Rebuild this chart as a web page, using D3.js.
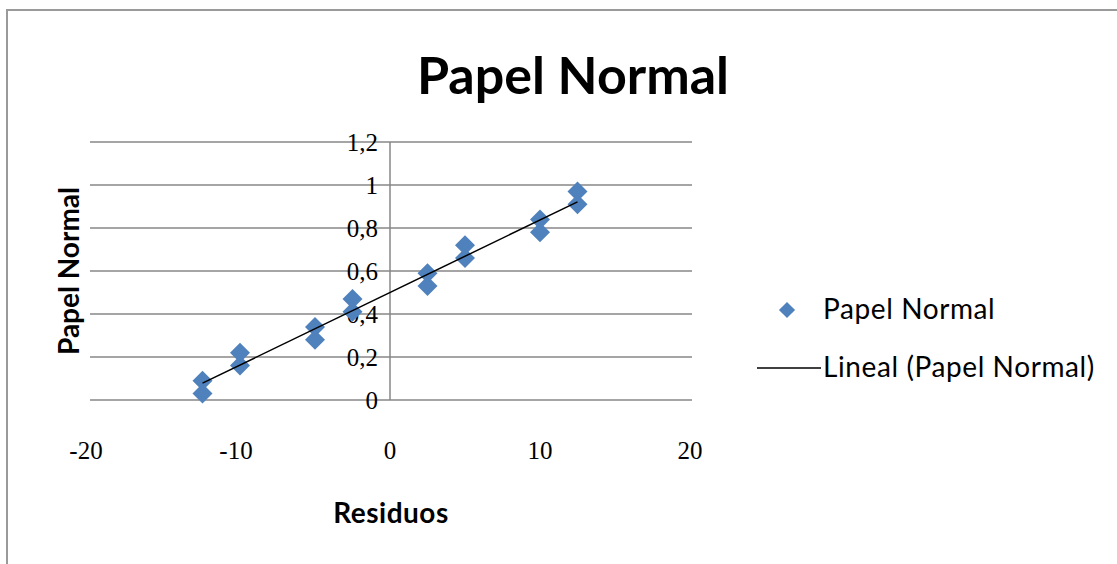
<!DOCTYPE html>
<html>
<head>
<meta charset="utf-8">
<script src="https://cdnjs.cloudflare.com/ajax/libs/d3/7.8.5/d3.min.js"></script>
<style>
  body { margin: 0; background: #fff; }
  svg { display: block; }
</style>
</head>
<body>
<script>
// datos
var residuos = [-12.5, -12.5, -10, -10, -5, -5, -2.5, -2.5, 2.5, 2.5, 5, 5, 10, 10, 12.5, 12.5];
var papel = [0.03, 0.09, 0.16, 0.22, 0.28, 0.34, 0.41, 0.47, 0.53, 0.59, 0.66, 0.72, 0.78, 0.84, 0.91, 0.97];
var xTicks = [-20, -10, 0, 10, 20];
var yTicks = [0, 0.2, 0.4, 0.6, 0.8, 1, 1.2];

var w = 1117, h = 564;
var blue = '#4f81bd';
var sans = 'Lato, "Open Sans", sans-serif';
var serif = '"Liberation Serif", serif';

var svg = d3.select('body').append('svg')
    .attr('width', w)
    .attr('height', h);

svg.append('rect')
   .attr('width', w).attr('height', h)
   .attr('fill', 'white');

// borde del grafico
svg.append('rect')
   .attr('x', 7).attr('y', 10)
   .attr('width', w + 10).attr('height', h + 10)
   .attr('fill', 'none')
   .attr('stroke', '#9a9a9a')
   .attr('stroke-width', 2);

var x = d3.scaleLinear().domain([-20, 20]).range([90, 690]);
var y = d3.scaleLinear().domain([0, 1.2]).range([400, 142]);

// lineas de division
svg.append('g').selectAll('line')
   .data(yTicks)
   .enter().append('line')
   .attr('x1', x(-20)).attr('x2', x(20) + 2)
   .attr('y1', function(d){ return y(d); })
   .attr('y2', function(d){ return y(d); })
   .attr('stroke', '#878787')
   .attr('stroke-width', 1.5);

// eje vertical en x = 0
svg.append('line')
   .attr('x1', x(0)).attr('x2', x(0))
   .attr('y1', y(1.2)).attr('y2', y(0))
   .attr('stroke', '#878787')
   .attr('stroke-width', 1.5);

// etiquetas eje y
svg.append('g').selectAll('text')
   .data(yTicks)
   .enter().append('text')
   .attr('x', x(0) - 12)
   .attr('y', function(d){ return y(d) + 9; })
   .attr('text-anchor', 'end')
   .style('font-family', serif)
   .style('font-size', '25px')
   .text(function(d){ return String(d).replace('.', ','); });

// etiquetas eje x
svg.append('g').selectAll('text')
   .data(xTicks)
   .enter().append('text')
   .attr('x', function(d){ return x(d) - (d < 0 ? 4 : 0); })
   .attr('y', 459)
   .attr('text-anchor', 'middle')
   .style('font-family', serif)
   .style('font-size', '25px')
   .text(function(d){ return d; });

// puntos
var pts = residuos.map(function(r, i){ return {r: r, p: papel[i]}; });
var diamond = d3.symbol().type(d3.symbolSquare).size(200);

svg.append('g').selectAll('path')
   .data(pts)
   .enter().append('path')
   .attr('d', diamond)
   .attr('transform', function(d){ return 'translate(' + x(d.r) + ',' + y(d.p) + ') rotate(45)'; })
   .attr('fill', blue);

// linea de tendencia (minimos cuadrados)
var mx = d3.mean(residuos), my = d3.mean(papel);
var sxy = d3.sum(pts, function(d){ return (d.r - mx) * (d.p - my); });
var sxx = d3.sum(pts, function(d){ return (d.r - mx) * (d.r - mx); });
var m = sxy / sxx, b = my - m * mx;
var ext = d3.extent(residuos);

svg.append('line')
   .attr('x1', x(ext[0])).attr('y1', y(m * ext[0] + b))
   .attr('x2', x(ext[1])).attr('y2', y(m * ext[1] + b))
   .attr('stroke', 'black')
   .attr('stroke-width', 1.5);

// titulos
svg.append('text')
   .attr('x', 573).attr('y', 94)
   .attr('text-anchor', 'middle')
   .style('font-family', sans)
   .style('font-weight', 'bold')
   .style('font-size', '52px')
   .text('Papel Normal');

svg.append('text')
   .attr('x', 391).attr('y', 523)
   .attr('text-anchor', 'middle')
   .style('font-family', sans)
   .style('font-weight', 'bold')
   .style('font-size', '28px')
   .style('letter-spacing', '0.5px')
   .text('Residuos');

svg.append('text')
   .attr('transform', 'translate(79,271) rotate(-90)')
   .attr('text-anchor', 'middle')
   .style('font-family', sans)
   .style('font-weight', 'bold')
   .style('font-size', '28px')
   .text('Papel Normal');

// leyenda
var leg = svg.append('g');
leg.append('path')
   .attr('d', d3.symbol().type(d3.symbolSquare).size(130))
   .attr('transform', 'translate(787,310) rotate(45)')
   .attr('fill', blue);
leg.append('text')
   .attr('x', 823).attr('y', 319)
   .style('font-family', sans)
   .style('font-size', '28px')
   .style('letter-spacing', '0.6px')
   .text('Papel Normal');
leg.append('line')
   .attr('x1', 757).attr('x2', 821)
   .attr('y1', 368).attr('y2', 368)
   .attr('stroke', 'black')
   .attr('stroke-width', 1.5);
leg.append('text')
   .attr('x', 823).attr('y', 377)
   .style('font-family', sans)
   .style('font-size', '28px')
   .style('letter-spacing', '0.6px')
   .text('Lineal (Papel Normal)');
</script>
</body>
</html>
